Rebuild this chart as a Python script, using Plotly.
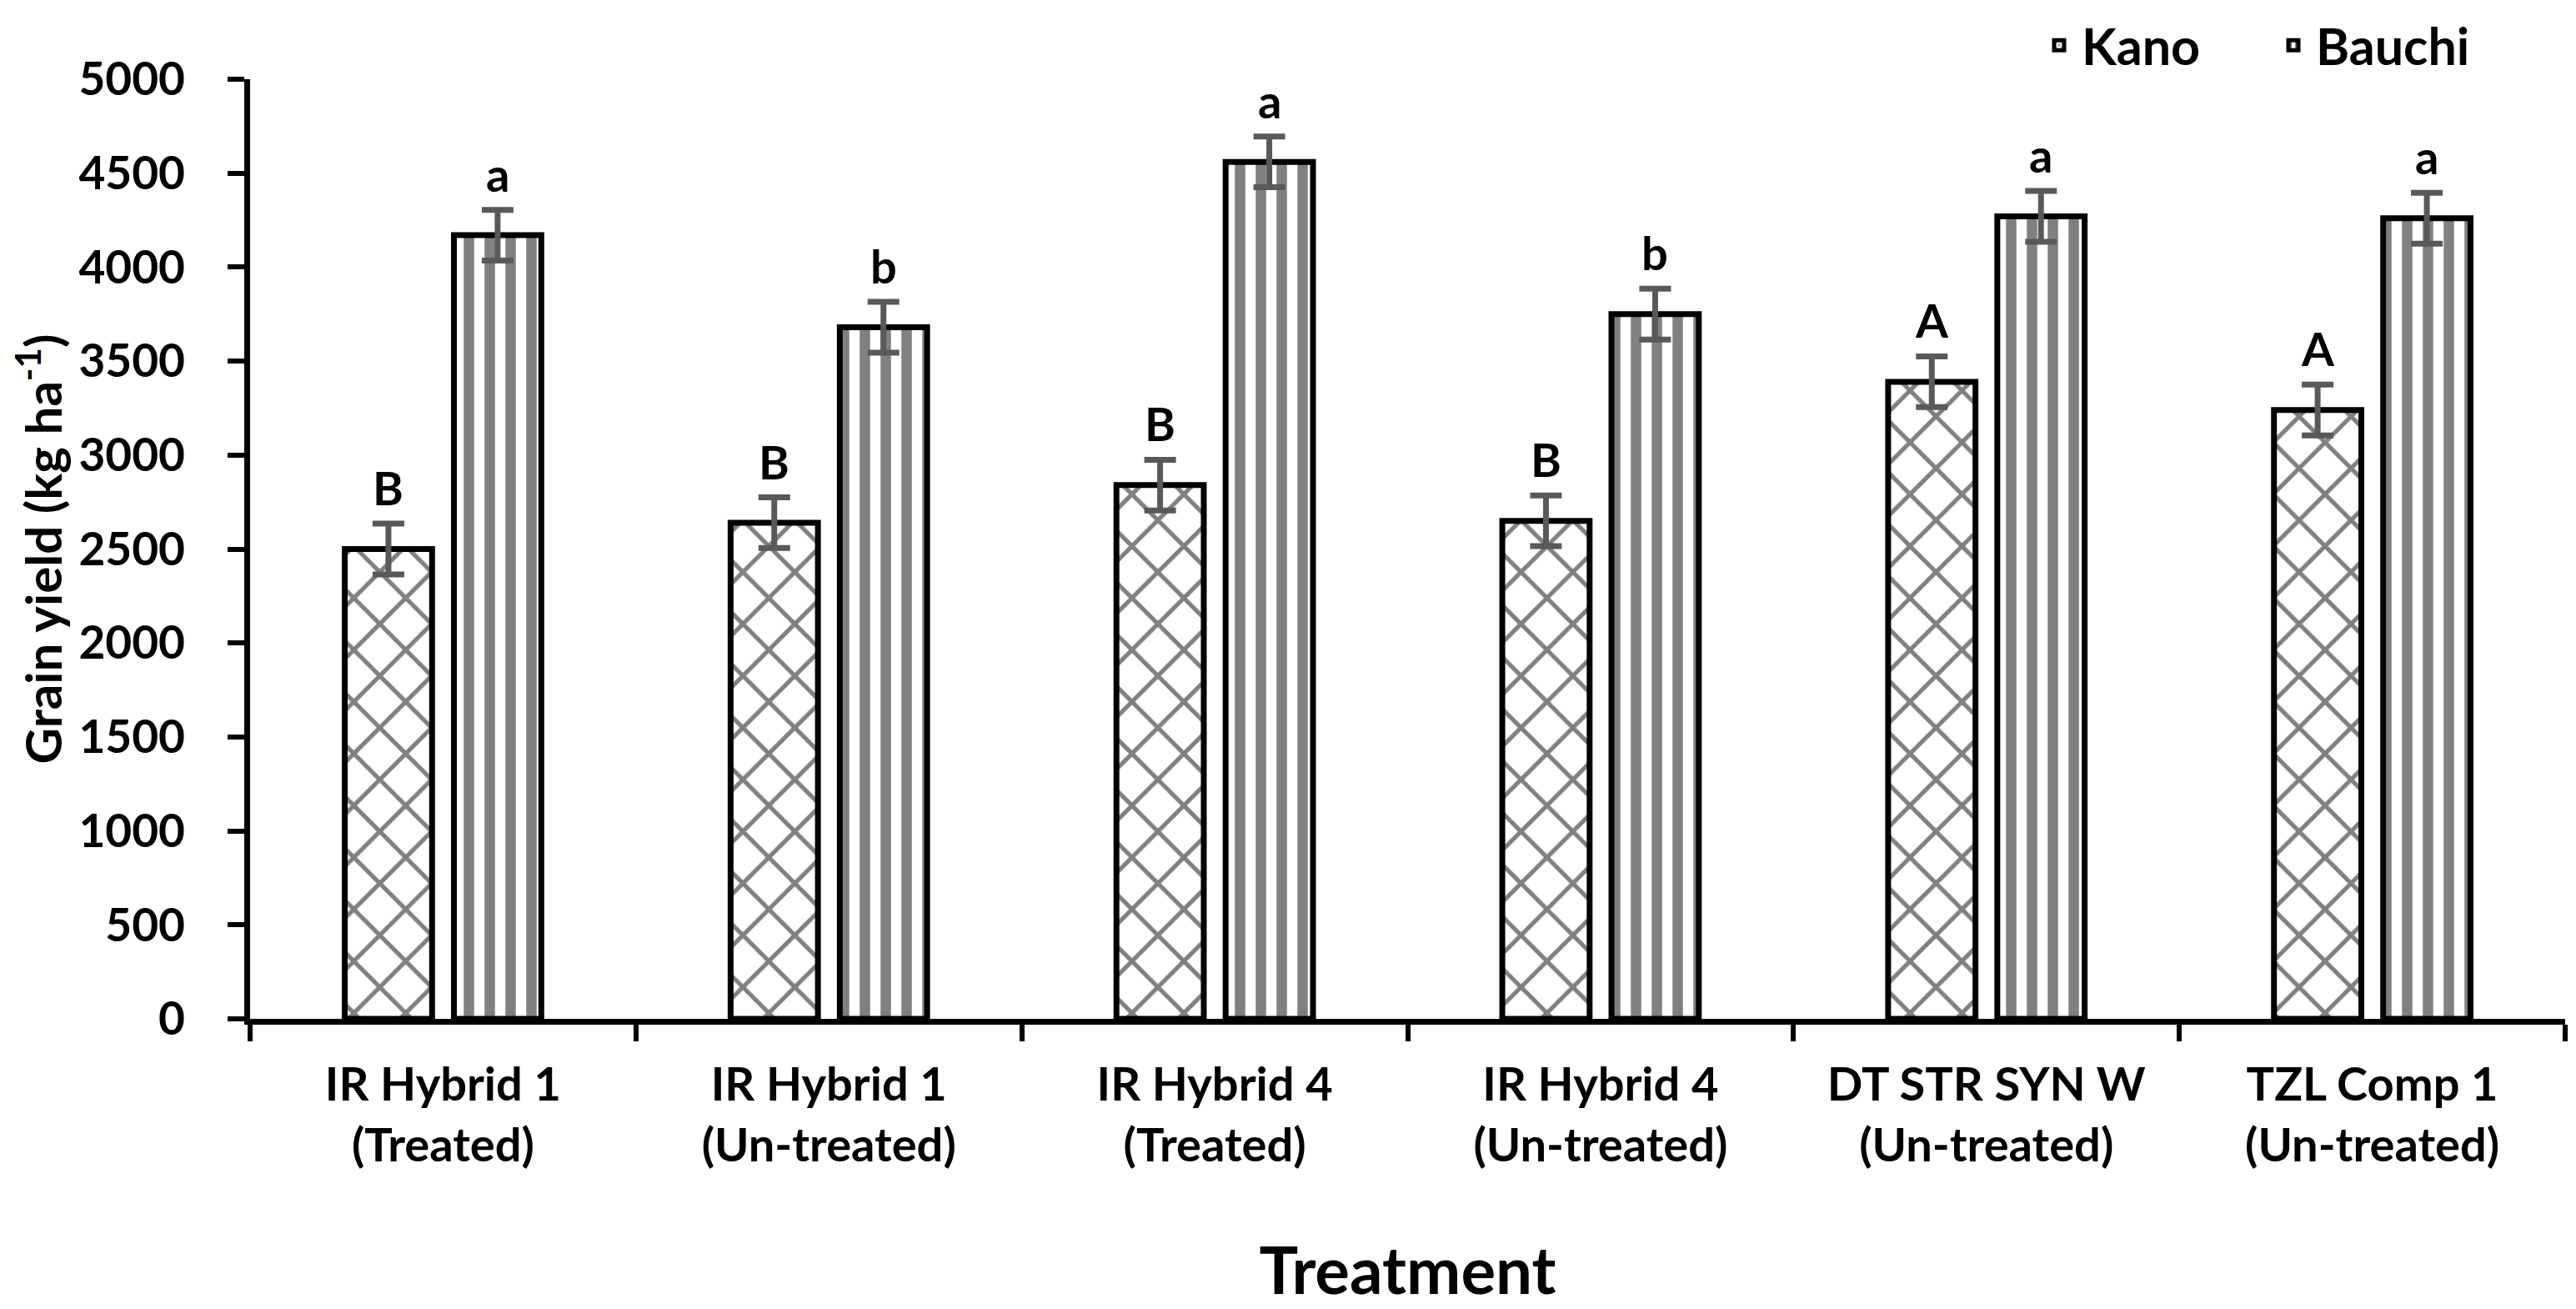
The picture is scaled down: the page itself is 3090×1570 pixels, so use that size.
import plotly.graph_objects as go

categories = [
    "IR Hybrid 1<br>(Treated)",
    "IR Hybrid 1<br>(Un-treated)",
    "IR Hybrid 4<br>(Treated)",
    "IR Hybrid 4<br>(Un-treated)",
    "DT STR SYN W<br>(Un-treated)",
    "TZL Comp 1<br>(Un-treated)",
]
kano = [2500, 2640, 2840, 2650, 3390, 3240]
kano_err = [135, 135, 135, 135, 135, 135]
kano_letters = ["B", "B", "B", "B", "A", "A"]
bauchi = [4170, 3680, 4560, 3750, 4270, 4260]
bauchi_err = [135, 135, 135, 135, 135, 135]
bauchi_letters = ["a", "b", "a", "b", "a", "a"]
y_ticks = list(range(0, 5001, 500))

FONT = "Lato"
# page body has an 8px margin, so the figure is slightly smaller than the window
W, H = 3082, 1562
ML, MR, MT, MB = 292, 13, 87, 348
PLOT_H = H - MT - MB
BARGAP = 0.434
BARGROUPGAP = 0.2

fig = go.Figure()
fig.add_trace(go.Bar(
    name="Kano", x=categories, y=kano,
    marker=dict(color="white", line=dict(color="black", width=7),
                pattern=dict(shape="x", fgcolor="#808080", bgcolor="white",
                             size=44, solidity=0.22, fillmode="replace")),
    error_y=dict(type="data", array=kano_err, color="#595959", thickness=7, width=19),
))
fig.add_trace(go.Bar(
    name="Bauchi", x=categories, y=bauchi,
    marker=dict(color="white", line=dict(color="black", width=7),
                pattern=dict(shape="|", fgcolor="#808080", bgcolor="white",
                             size=25, solidity=0.5, fillmode="replace")),
    error_y=dict(type="data", array=bauchi_err, color="#595959", thickness=7, width=19),
))

# letter annotations above the error bars
slot = (1 - BARGAP) / 2
for i in range(len(categories)):
    for off, vals, errs, letters in ((-slot / 2, kano, kano_err, kano_letters),
                                     (slot / 2, bauchi, bauchi_err, bauchi_letters)):
        fig.add_annotation(
            x=i + off, y=vals[i] + errs[i], xref="x", yref="y",
            text=letters[i], showarrow=False, yanchor="bottom", yshift=8,
            font=dict(family=FONT, size=56, color="black", weight="bold"),
        )

fig.update_layout(
    width=W, height=H,
    margin=dict(l=ML, r=MR, t=MT, b=MB, autoexpand=False),
    paper_bgcolor="white", plot_bgcolor="white",
    barmode="group", bargap=BARGAP, bargroupgap=BARGROUPGAP,
    font=dict(family=FONT, size=55, color="black"),
    showlegend=True,
    legend=dict(orientation="h", xanchor="left", x=0.7717, yanchor="top",
                y=1 + MT / PLOT_H,
                entrywidth=222, entrywidthmode="pixels", itemwidth=44,
                font=dict(family=FONT, size=61, color="black", weight="bold"),
                bgcolor="rgba(0,0,0,0)"),
)
fig.update_xaxes(
    type="category", showline=True, linecolor="black", linewidth=7,
    ticks="outside", tickson="boundaries", ticklen=20, tickwidth=6, tickcolor="black",
    showgrid=False, zeroline=False, automargin=False,
    tickfont=dict(family=FONT, size=56, color="black", weight="bold"),
    ticklabelstandoff=24,
    title=dict(text="Treatment", standoff=96,
               font=dict(family=FONT, size=78, color="black", weight="bold")),
)
fig.update_yaxes(
    range=[0, 5000], tickvals=y_ticks, showline=True, linecolor="black", linewidth=7,
    ticks="outside", ticklen=20, tickwidth=6, tickcolor="black",
    showgrid=False, zeroline=False, automargin=False,
    tickfont=dict(family=FONT, size=55, color="black", weight="bold"),
    ticklabelstandoff=40,
    title=dict(text="Grain yield (kg ha<sup>-1</sup>)", standoff=52,
               font=dict(family=FONT, size=60, color="black", weight="bold")),
)

fig.write_html("out.html")
